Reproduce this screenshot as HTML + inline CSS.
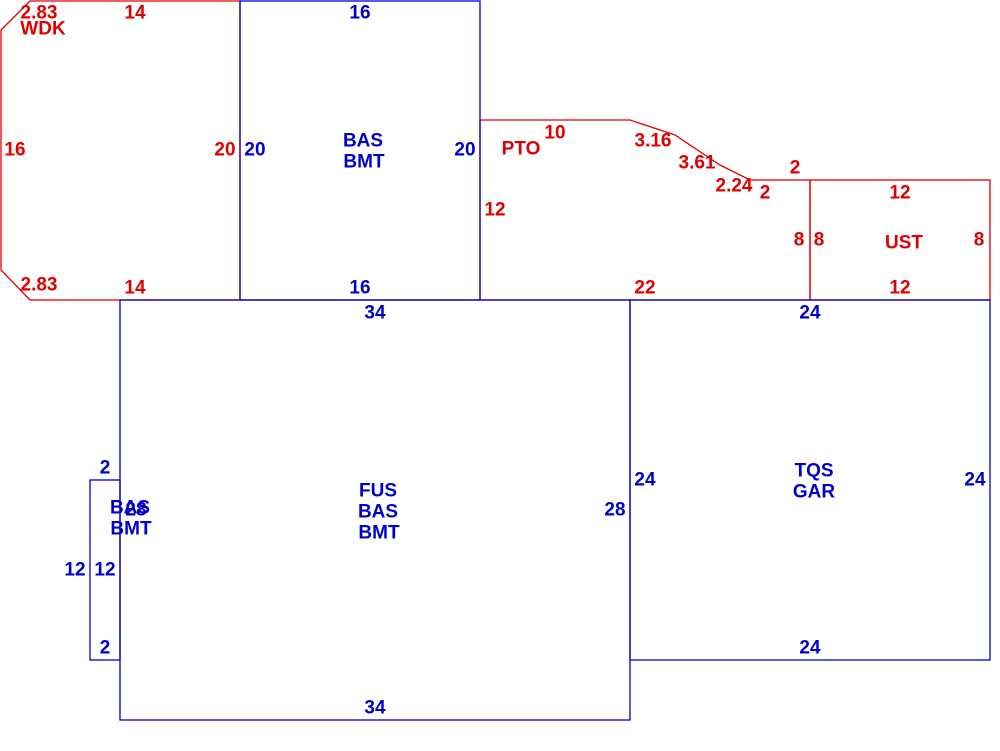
<!DOCTYPE html>
<html><head><meta charset="utf-8"><style>
html,body{margin:0;padding:0;background:#fff;}
svg{display:block;}
text{font-family:"Liberation Sans",Arial,sans-serif;font-weight:bold;font-size:19px;text-anchor:middle;dominant-baseline:central;}
.r{fill:#e00000;} .b{fill:#0000cc;}
</style></head><body>
<svg width="1000" height="751" viewBox="0 0 1000 751" xmlns="http://www.w3.org/2000/svg">
<g fill="none" stroke-width="1.3">
<polygon stroke="#e00000" points="30,1 240,1 240,300 30,300 1,270 1,30"/>
<polygon stroke="#e00000" points="480,120 630,120 675,135 720,165 750,180 810,180 810,300 480,300"/>
<rect stroke="#e00000" x="810" y="180" width="180" height="120"/>
<rect stroke="#0000cc" x="240" y="1" width="240" height="299"/>
<rect stroke="#0000cc" x="120" y="300" width="510" height="420"/>
<rect stroke="#0000cc" x="630" y="300" width="360" height="360"/>
<rect stroke="#0000cc" x="90" y="480" width="30" height="180"/>
</g>
<g class="r">
<text x="39" y="13">2.83</text><text x="43" y="29">WDK</text>
<text x="135" y="13">14</text>
<text x="15" y="150">16</text>
<text x="225" y="150">20</text>
<text x="39" y="285">2.83</text>
<text x="135" y="288">14</text>
<text x="555" y="133">10</text>
<text x="521" y="149">PTO</text>
<text x="653" y="141">3.16</text>
<text x="697" y="163">3.61</text>
<text x="734" y="186">2.24</text>
<text x="765" y="193">2</text>
<text x="795" y="168">2</text>
<text x="495" y="210">12</text>
<text x="799" y="240">8</text>
<text x="819" y="240">8</text>
<text x="645" y="288">22</text>
<text x="900" y="193">12</text>
<text x="904" y="243">UST</text>
<text x="979" y="240">8</text>
<text x="900" y="288">12</text>
</g>
<g class="b">
<text x="360" y="13">16</text>
<text x="255" y="150">20</text>
<text x="465" y="150">20</text>
<text x="363" y="141">BAS</text><text x="364" y="162">BMT</text>
<text x="360" y="288">16</text>
<text x="375" y="313">34</text>
<text x="810" y="313">24</text>
<text x="105" y="468">2</text>
<text x="378" y="491">FUS</text><text x="378" y="512">BAS</text><text x="379" y="533">BMT</text>
<text x="130" y="508">BAS</text><text x="136" y="510">28</text><text x="131" y="529">BMT</text>
<text x="615" y="510">28</text>
<text x="645" y="480">24</text>
<text x="814" y="471">TQS</text><text x="814" y="492">GAR</text>
<text x="975" y="480">24</text>
<text x="75" y="570">12</text>
<text x="105" y="570">12</text>
<text x="105" y="648">2</text>
<text x="810" y="648">24</text>
<text x="375" y="708">34</text>
</g>
</svg>
</body></html>
